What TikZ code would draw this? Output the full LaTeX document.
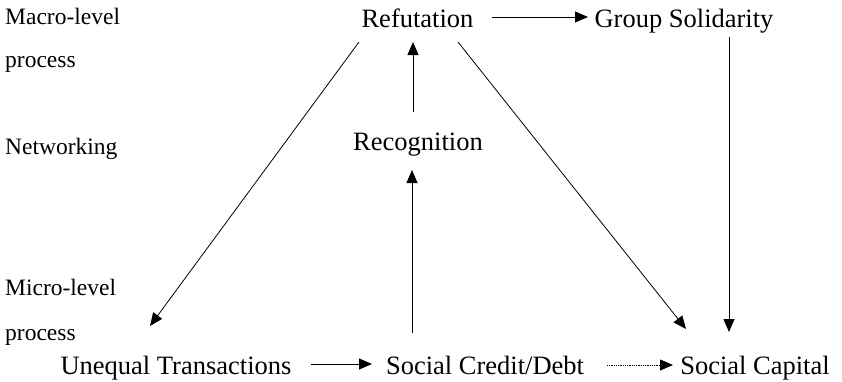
\documentclass[tikz,border=0pt]{standalone}
\usepackage{fontspec}
\setmainfont{Liberation Serif}
\usetikzlibrary{arrows.meta,calc}
\begin{document}
\begin{tikzpicture}[x=1bp,y=-1bp,
  box/.style={inner sep=0pt,anchor=base,font=\fontsize{26.5bp}{30bp}\selectfont},
  lev/.style={inner sep=0pt,anchor=base west,font=\fontsize{23.5bp}{28bp}\selectfont},
  arr/.style={line width=0.8bp,-{Triangle[length=13bp,width=11bp]}},
  dotarr/.style={line width=0.8bp,densely dotted,-{Triangle[length=13bp,width=11bp]}}]
\useasboundingbox (0,0) rectangle (842,381);
% level labels
\node[lev] (l1) at (5,24) {Macro-level};
\node[lev] (l2) at (5,67) {process};
\node[lev] (l3) at (5,154) {Networking};
\node[lev] (l4) at (5,295) {Micro-level};
\node[lev] (l5) at (5,340) {process};
% nodes
\node[box] (ref) at (417.5,27) {Refutation};
\node[box] (grp) at (684,27) {Group Solidarity};
\node[box] (rec) at (418,150) {Recognition};
\node[box] (une) at (176,374) {Unequal Transactions};
\node[box] (scd) at (485,374) {Social Credit/Debt};
\node[box] (sca) at (755,374) {Social Capital};
% connectors
\draw[arr] ($(ref.base)+(74.5,-10)$) -- ($(grp.base)+(-96,-10)$);
\draw[arr] ($(ref.base)+(-58.5,15)$) -- ($(une.base)+(-26,-48)$);
\draw[arr] ($(ref.base)+(40.5,15)$) -- ($(sca.base)+(-69,-45)$);
\draw[arr] ($(rec.base)+(-5,-38)$) -- ($(ref.base)+(-4.5,15)$);
\draw[arr] ($(scd.base)+(-73,-41)$) -- ($(rec.base)+(-6,20)$);
\draw[arr] ($(grp.base)+(45,10)$) -- ($(sca.base)+(-26,-42)$);
\draw[arr] ($(une.base)+(135,-10)$) -- ($(scd.base)+(-113,-10)$);
\draw[dotarr] ($(scd.base)+(122,-9)$) -- ($(sca.base)+(-82,-9)$);
\end{tikzpicture}
\end{document}
